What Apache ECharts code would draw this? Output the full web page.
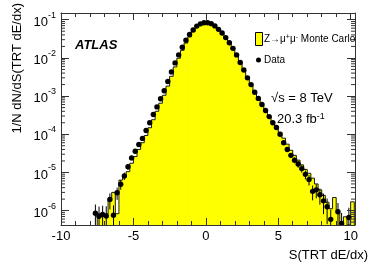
<!DOCTYPE html>
<html>
<head>
<meta charset="utf-8">
<script src="https://cdn.jsdelivr.net/npm/echarts@6/dist/echarts.min.js"></script>
<style>
html,body{margin:0;padding:0;background:#fff;}
#c{width:374px;height:268px;}
</style>
</head>
<body>
<div id="c"></div>
<script>
// ---- data ----
const binWidth = 0.25;
const binCenters = [
-7.625,-7.375,-7.125,-6.875,-6.625,-6.375,-6.125,-5.875,-5.625,-5.375,-5.125,-4.875,
-4.625,-4.375,-4.125,-3.875,-3.625,-3.375,-3.125,-2.875,-2.625,-2.375,-2.125,-1.875,
-1.625,-1.375,-1.125,-0.875,-0.625,-0.375,-0.125,0.125,0.375,0.625,0.875,1.125,
1.375,1.625,1.875,2.125,2.375,2.625,2.875,3.125,3.375,3.625,3.875,4.125,
4.375,4.625,4.875,5.125,5.375,5.625,5.875,6.125,6.375,6.625,6.875,7.125,
7.375,7.625,7.875,8.125,8.375,8.625,8.875,9.125,9.375,9.625,9.875,10.125
];
const mcValues = [
null,8.1e-7,8.1e-7,8.1e-7,2.0e-6,3.0e-6,8.3e-7,6.3e-6,7.6e-6,1.05e-5,1.74e-5,2.6e-5,
4.0e-5,6.0e-5,9.3e-5,1.48e-4,2.4e-4,4.0e-4,6.5e-4,1.05e-3,1.82e-3,3.3e-3,5.8e-3,9.8e-3,
1.58e-2,2.45e-2,3.55e-2,4.9e-2,6.3e-2,7.4e-2,8.1e-2,8.1e-2,7.6e-2,6.8e-2,5.5e-2,4.3e-2,
3.2e-2,2.35e-2,1.66e-2,1.12e-2,7.2e-3,4.6e-3,2.95e-3,1.9e-3,1.26e-3,8.5e-4,5.9e-4,4.2e-4,
2.95e-4,2.1e-4,1.55e-4,1.12e-4,7.9e-5,5.5e-5,3.8e-5,2.8e-5,2.1e-5,1.58e-5,1.2e-5,9.5e-6,
7.1e-6,5.0e-6,3.5e-6,2.5e-6,1.66e-6,1.12e-6,2.2e-6,8.5e-7,null,6.9e-7,null,1.7e-6
];
const dataValues = [
8.5e-7,7.1e-7,7.9e-7,7.2e-7,1.95e-6,7.6e-7,2.95e-6,4.9e-6,8.1e-6,1.41e-5,2.4e-5,3.6e-5,
5.4e-5,7.8e-5,1.26e-4,2.0e-4,3.3e-4,5.2e-4,8.5e-4,1.38e-3,2.4e-3,4.3e-3,7.4e-3,1.2e-2,
1.9e-2,2.9e-2,4.1e-2,5.4e-2,6.8e-2,7.8e-2,8.3e-2,8.3e-2,7.9e-2,6.9e-2,5.6e-2,4.5e-2,
3.4e-2,2.5e-2,1.78e-2,1.2e-2,7.6e-3,4.8e-3,3.0e-3,2.0e-3,1.26e-3,8.7e-4,6.0e-4,4.2e-4,
2.9e-4,2.0e-4,1.5e-4,1.0e-4,6.0e-5,4.0e-5,2.8e-5,2.1e-5,1.66e-5,1.26e-5,8.9e-6,6.5e-6,
3.2e-6,3.5e-6,2.6e-6,1.8e-6,1.26e-6,5.9e-7,null,9.3e-7,4.6e-7,null,6.6e-7,null
];
// relative statistical error of each data point
const dataRelErr = [
0.7,0.8,0.7,0.8,0.45,0.8,0.35,0.28,0.22,0.17,0.13,0.11,
0.09,0.07,0.06,0.05,0.04,0.03,0.02,0.02,0.01,0.01,0.01,0.01,
0.01,0.01,0.01,0.01,0.01,0.01,0.01,0.01,0.01,0.01,0.01,0.01,
0.01,0.01,0.01,0.01,0.01,0.01,0.01,0.02,0.02,0.03,0.03,0.04,
0.05,0.06,0.07,0.08,0.1,0.12,0.15,0.17,0.2,0.22,0.26,0.3,
0.42,0.4,0.45,0.55,0.65,0.8,0,0.7,0.9,0,0.8,0
];
const xTickValues = [-10, -5, 0, 5, 10];
const yDecades = [-7, -6, -5, -4, -3, -2, -1];

const xMin = -10, xMax = 10.3;
const yMin = 4.2e-7, yMax = 0.15;
const FONT = 'Liberation Sans, Arial, Helvetica, sans-serif';
const AXC = '#333';

const chart = echarts.init(document.getElementById('c'), null, {renderer: 'canvas'});

function renderHist(params, api) {
  const i = params.dataIndex;
  const c = binCenters[i];
  const v = mcValues[i];
  const pv = i > 0 ? mcValues[i - 1] : null;
  const yB = api.coord([c, yMin])[1];
  const lo = api.coord([c - binWidth / 2, yMin])[0];
  const hi = api.coord([c + binWidth / 2, yMin])[0];
  const yv = v != null ? api.coord([c, v])[1] : yB;
  const ypv = pv != null ? api.coord([c, pv])[1] : yB;
  const children = [];
  if (v != null) {
    children.push({type: 'rect', shape: {x: lo, y: yv, width: hi - lo + 0.6, height: yB - yv},
      style: {fill: '#ffff00'}, z2: 1});
  }
  if (v != null || pv != null) {
    children.push({type: 'polyline', shape: {points: [[lo, ypv], [lo, yv], [hi, yv]]},
      style: {stroke: '#1a1a1a', lineWidth: 1, fill: null}, z2: 2});
  }
  if (i === binCenters.length - 1 && v != null) {
    children.push({type: 'line', shape: {x1: hi, y1: yv, x2: hi, y2: yB},
      style: {stroke: '#1a1a1a', lineWidth: 1}, z2: 2});
  }
  return {type: 'group', children};
}

function renderData(params, api) {
  const i = params.dataIndex;
  const v = dataValues[i];
  if (v == null) return {type: 'group', children: []};
  const c = binCenters[i];
  const e = dataRelErr[i];
  const p = api.coord([c, v]);
  const yB = api.coord([c, yMin])[1];
  const yT = api.coord([c, yMax])[1];
  const lo = api.coord([c - binWidth / 2, v])[0];
  const hi = api.coord([c + binWidth / 2, v])[0];
  const vlo = v * (1 - e);
  let y1 = vlo > yMin ? api.coord([c, vlo])[1] : yB;
  let y2 = Math.max(api.coord([c, v * (1 + e)])[1], yT);
  return {type: 'group', children: [
    {type: 'line', shape: {x1: p[0], y1: y1, x2: p[0], y2: y2}, style: {stroke: '#000', lineWidth: 1}},
    {type: 'line', shape: {x1: lo, y1: p[1], x2: hi, y2: p[1]}, style: {stroke: '#000', lineWidth: 1}},
    {type: 'circle', shape: {cx: p[0], cy: p[1], r: 2.7}, style: {fill: '#000'}}
  ]};
}

// minor ticks of the log axis (2..9 x 10^k) on both vertical frame sides
const yMinorTicks = [];
yDecades.forEach(d => { for (let m = 2; m <= 9; m++) { const t = m * Math.pow(10, d); if (t > yMin && t < yMax) yMinorTicks.push(t); } });

function renderMinor(params, api) {
  const t = yMinorTicks[params.dataIndex];
  const p = api.coord([xMin, t]);
  const q = api.coord([xMax, t]);
  return {type: 'group', children: [
    {type: 'line', shape: {x1: p[0], y1: p[1], x2: p[0] + 4, y2: p[1]}, style: {stroke: AXC, lineWidth: 1}},
    {type: 'line', shape: {x1: q[0], y1: q[1], x2: q[0] - 4, y2: q[1]}, style: {stroke: AXC, lineWidth: 1}}
  ]};
}

const xAxisCommon = {
  type: 'value', min: xMin, max: xMax, interval: 5, z: 10,
  axisLine: {show: true, onZero: false, lineStyle: {color: AXC, width: 1}},
  axisTick: {show: true, inside: true, length: 7, lineStyle: {color: AXC}},
  minorTick: {show: true, splitNumber: 5, length: 4, lineStyle: {color: AXC}},
  splitLine: {show: false}
};
const yAxisCommon = {
  type: 'log', logBase: 10, min: yMin, max: yMax, z: 10,
  axisLine: {show: true, onZero: false, lineStyle: {color: AXC, width: 1}},
  axisTick: {show: true, inside: true, length: 8, lineStyle: {color: AXC}},
  splitLine: {show: false}
};

const option = {
  animation: false,
  backgroundColor: '#fff',
  grid: {left: 61, right: 19, top: 13, bottom: 43},
  xAxis: [
    Object.assign({}, xAxisCommon, {position: 'bottom',
      axisLabel: {show: true, fontSize: 13, fontFamily: FONT, color: '#000', margin: 5,
        showMaxLabel: false, showMinLabel: true,
        formatter: v => xTickValues.indexOf(v) >= 0 ? String(v) : ''}}),
    Object.assign({}, xAxisCommon, {position: 'top', axisLabel: {show: false}})
  ],
  yAxis: [
    Object.assign({}, yAxisCommon, {position: 'left',
      axisLabel: {show: true, margin: 5, showMinLabel: false, showMaxLabel: false,
        fontFamily: FONT, color: '#000',
        formatter: v => '{b|10}{s|' + Math.round(Math.log10(v)) + '}',
        rich: {
          b: {fontSize: 13, fontFamily: FONT, color: '#000', lineHeight: 18, verticalAlign: 'bottom'},
          s: {fontSize: 9, fontFamily: FONT, color: '#000', lineHeight: 9, verticalAlign: 'top'}
        }}}),
    Object.assign({}, yAxisCommon, {position: 'right', axisLabel: {show: false}})
  ],
  series: [
    {type: 'custom', name: 'MC', xAxisIndex: 0, yAxisIndex: 0, clip: true, z: 2,
      renderItem: renderHist,
      data: binCenters.map((c, i) => [c, mcValues[i] != null ? mcValues[i] : yMin])},
    {type: 'custom', name: 'Data', xAxisIndex: 0, yAxisIndex: 0, clip: true, z: 3,
      renderItem: renderData,
      data: binCenters.map((c, i) => [c, dataValues[i] != null ? dataValues[i] : yMin])},
    {type: 'custom', name: 'minor', xAxisIndex: 0, yAxisIndex: 0, z: 11, silent: true,
      renderItem: renderMinor,
      data: yMinorTicks.map(t => [xMin, t])}
  ],
  graphic: [
    {type: 'text', x: 17, y: 3, rotation: Math.PI / 2, z: 20,
      style: {text: '1/N dN/dS(TRT dE/dx)', font: '13px ' + FONT, fill: '#000',
        textAlign: 'right', textVerticalAlign: 'middle', align: 'right', verticalAlign: 'middle'}},
    {type: 'text', x: 368, y: 255, z: 20,
      style: {text: 'S(TRT dE/dx)', font: '13px ' + FONT, fill: '#000',
        textAlign: 'right', textVerticalAlign: 'middle', align: 'right', verticalAlign: 'middle'}},
    {type: 'text', x: 75, y: 45, z: 20,
      style: {text: 'ATLAS', font: 'italic bold 13px ' + FONT, fill: '#000',
        textAlign: 'left', textVerticalAlign: 'middle', align: 'left', verticalAlign: 'middle'}},
    {type: 'rect', x: 0, y: 0, z: 20, shape: {x: 255.5, y: 32.5, width: 7, height: 13},
      style: {fill: '#ffff00', stroke: '#000', lineWidth: 1}},
    {type: 'text', x: 264, y: 39, z: 20,
      style: {text: 'Z\u2192\u03bc{s|+}\u03bc{s|-} Monte Carlo', font: '10px ' + FONT, fill: '#000',
        textAlign: 'left', textVerticalAlign: 'middle', align: 'left', verticalAlign: 'middle',
        rich: {s: {fontSize: 7, fontFamily: FONT, fill: '#000', lineHeight: 7, verticalAlign: 'top'}}}},
    {type: 'circle', z: 20, shape: {cx: 258.5, cy: 60, r: 2.5}, style: {fill: '#000'}},
    {type: 'text', x: 264, y: 60, z: 20,
      style: {text: 'Data', font: '10px ' + FONT, fill: '#000',
        textAlign: 'left', textVerticalAlign: 'middle', align: 'left', verticalAlign: 'middle'}},
    {type: 'text', x: 271, y: 98, z: 20,
      style: {text: '\u221as = 8 TeV', font: '13px ' + FONT, fill: '#000',
        textAlign: 'left', textVerticalAlign: 'middle', align: 'left', verticalAlign: 'middle'}},
    {type: 'text', x: 277, y: 119, z: 20,
      style: {text: '20.3 fb{s|-1}', font: '13px ' + FONT, fill: '#000',
        textAlign: 'left', textVerticalAlign: 'middle', align: 'left', verticalAlign: 'middle',
        rich: {s: {fontSize: 9, fontFamily: FONT, fill: '#000', lineHeight: 9, verticalAlign: 'top'}}}}
  ]
};
chart.setOption(option);
</script>
</body>
</html>
